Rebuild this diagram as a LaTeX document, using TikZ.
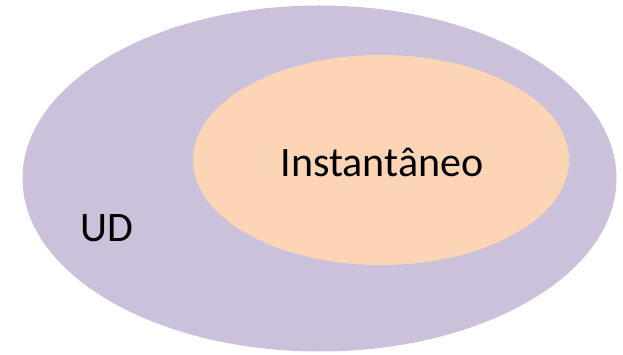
\documentclass[tikz,border=0pt]{standalone}
\usepackage{fontspec}
\setmainfont{Carlito}
\definecolor{outerfill}{HTML}{CBC1DB}
\definecolor{innerfill}{HTML}{FBD5B5}
\begin{document}
\begin{tikzpicture}[x=1pt,y=-1pt,
  lbl/.style={inner sep=0pt,font=\fontsize{42}{50}\selectfont,text=black}]
\useasboundingbox (0,0) rectangle (623,355);
\fill[outerfill] (319.5,178.5) ellipse [x radius=297, y radius=173];
\fill[innerfill] (381,160) ellipse [x radius=188, y radius=105];
\node[lbl,anchor=base] (inst) at (382,177) {Instantâneo};
\node[lbl,anchor=base] (ud) at (106.5,241) {UD};
\end{tikzpicture}
\end{document}
